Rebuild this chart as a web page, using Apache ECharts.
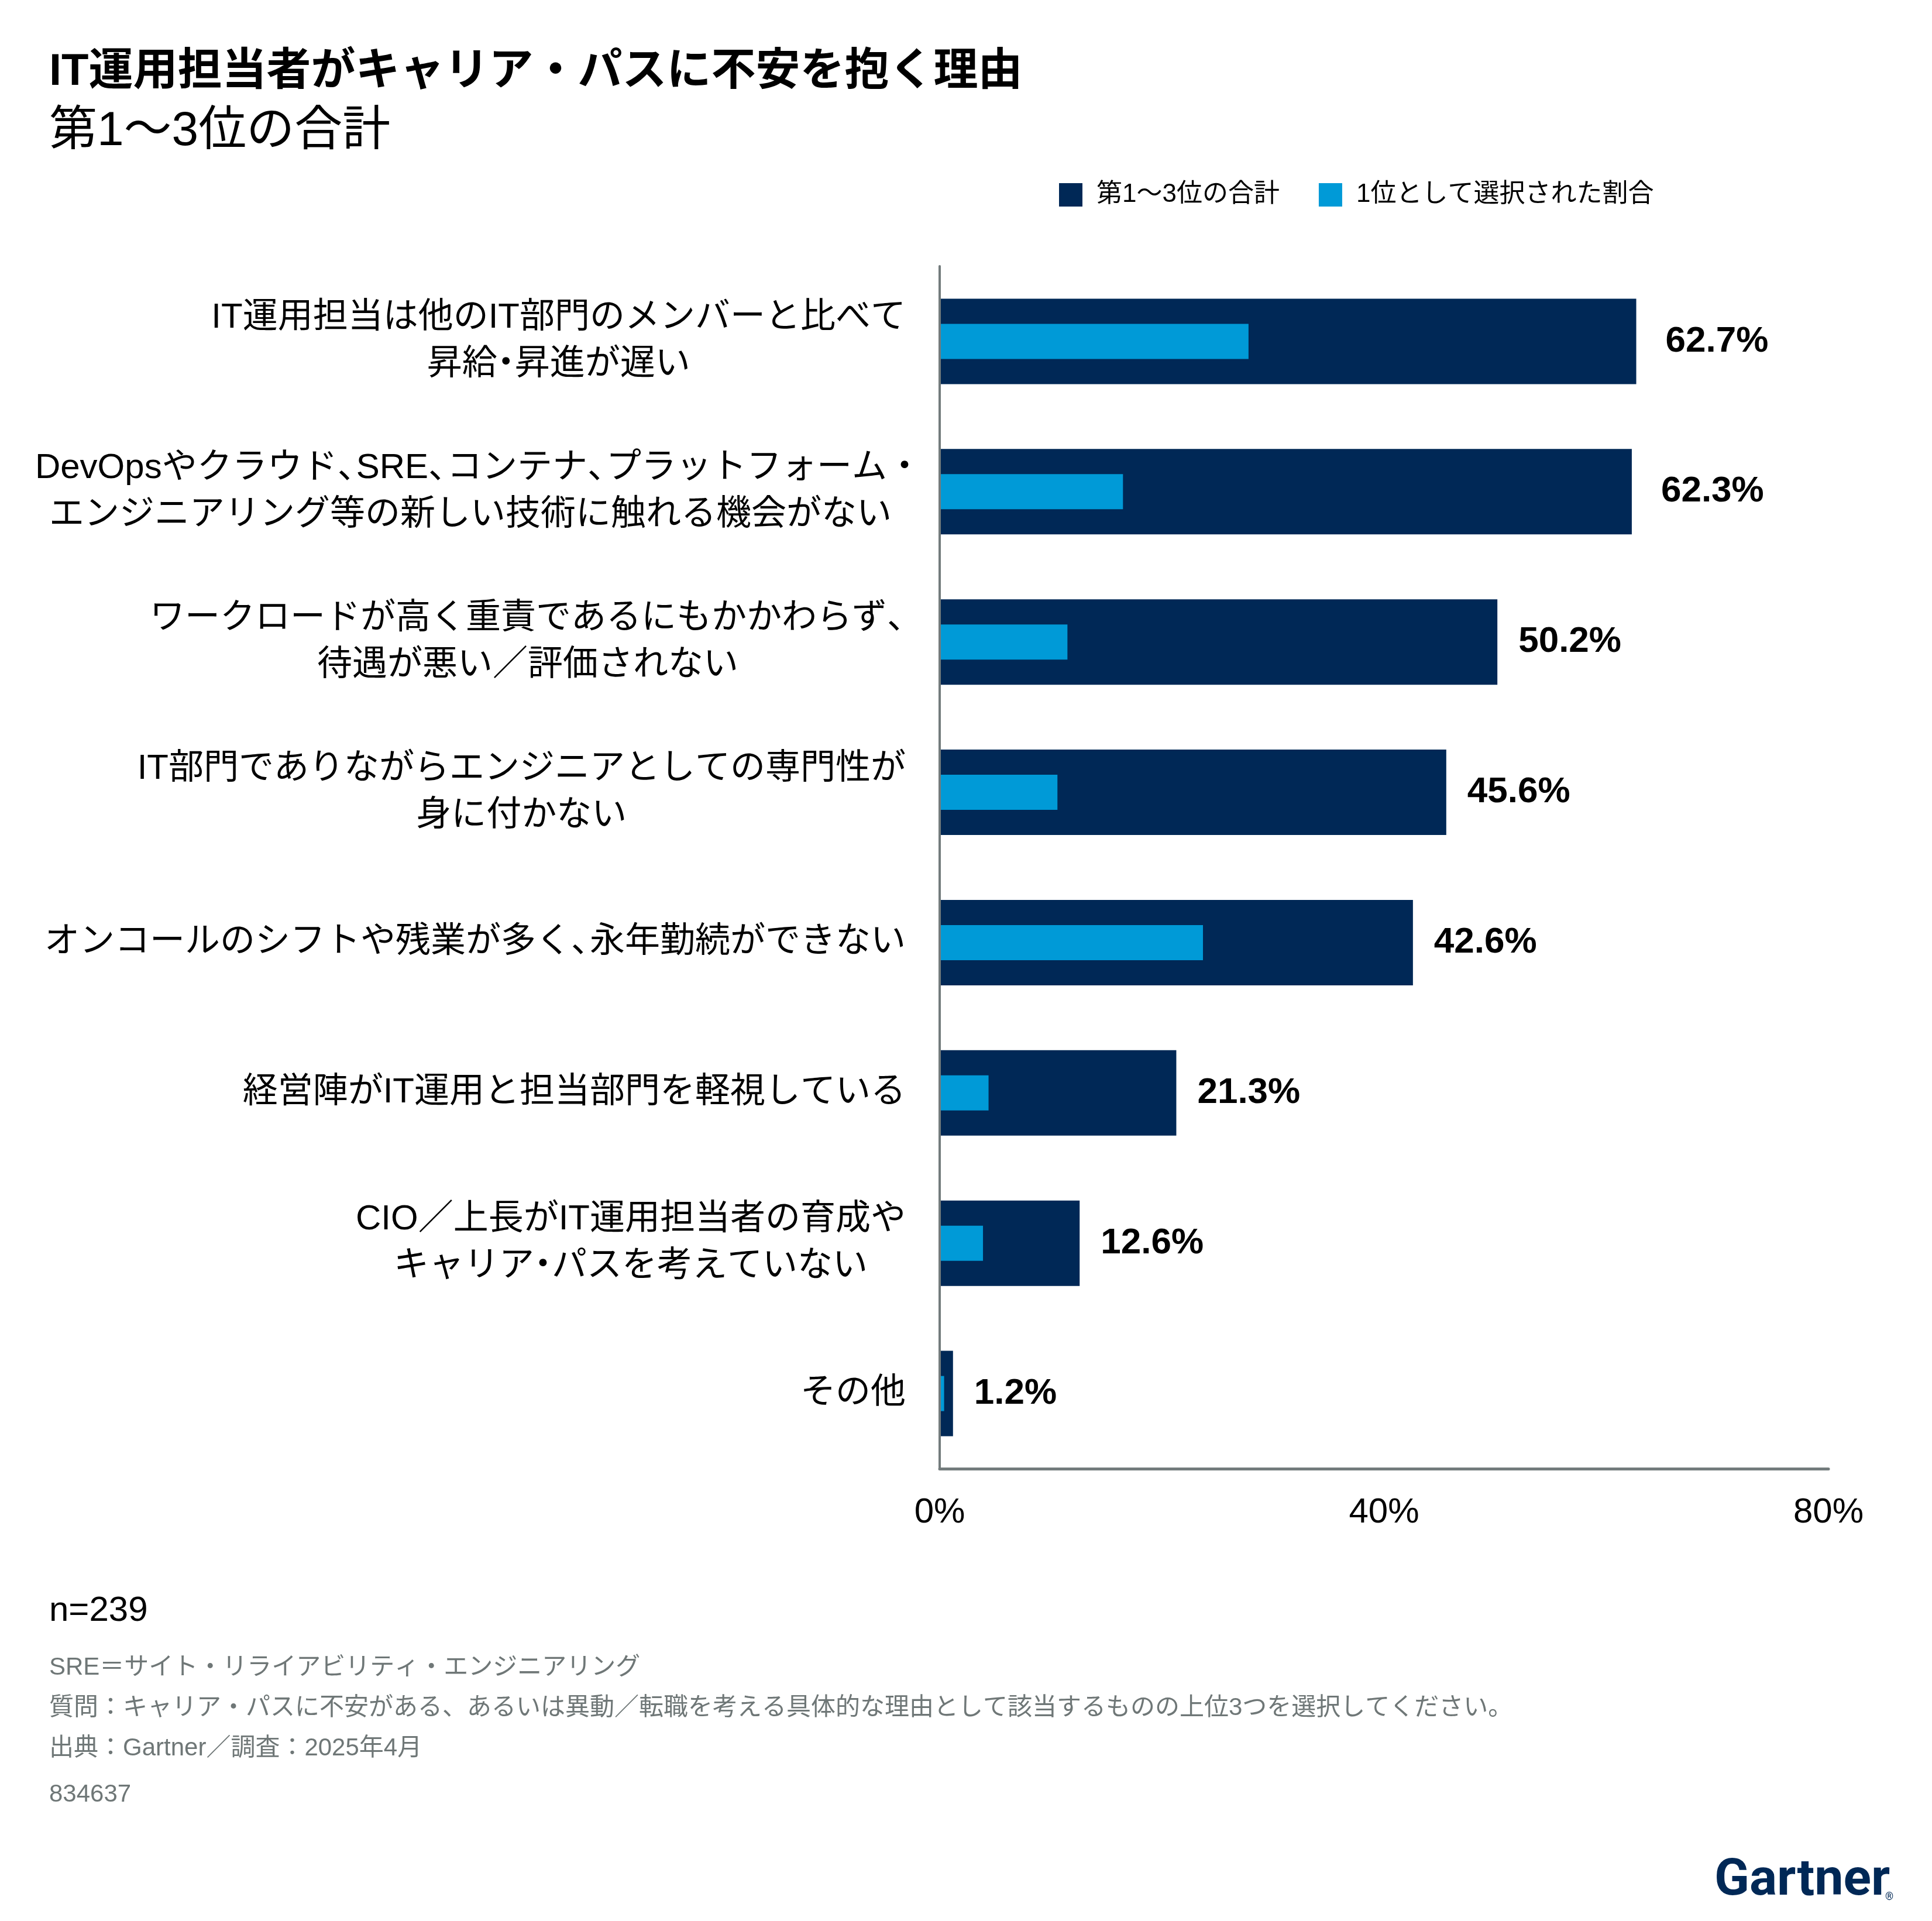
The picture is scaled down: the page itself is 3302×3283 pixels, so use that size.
<!DOCTYPE html>
<html>
<head>
<meta charset="utf-8">
<script src="https://cdn.jsdelivr.net/npm/echarts@6/dist/echarts.min.js"></script>
<style>
  html, body { margin: 0; padding: 0; background: #fff; }
  #chart { width: 3302px; height: 3283px; }
</style>
</head>
<body>
<div id="chart"></div>
<script>
// データ
const categories = [
  'IT運用担当は他のIT部門のメンバーと比べて\n昇給・昇進が遅い',
  'DevOpsやクラウド、SRE、コンテナ、プラットフォーム・\nエンジニアリング等の新しい技術に触れる機会がない',
  'ワークロードが高く重責であるにもかかわらず、\n待遇が悪い／評価されない',
  'IT部門でありながらエンジニアとしての専門性が\n身に付かない',
  'オンコールのシフトや残業が多く、永年勤続ができない',
  '経営陣がIT運用と担当部門を軽視している',
  'CIO／上長がIT運用担当者の育成や\nキャリア・パスを考えていない',
  'その他'
];
const top3Total = [62.7, 62.3, 50.2, 45.6, 42.6, 21.3, 12.6, 1.2];
const firstChoice = [27.8, 16.5, 11.5, 10.6, 23.7, 4.4, 3.9, 0.4];
const xTicks = [0, 40, 80];
const seriesNames = ['第1～3位の合計', '1位として選択された割合'];

const footnotes = [
  'SRE＝サイト・リライアビリティ・エンジニアリング',
  '質問：キャリア・パスに不安がある、あるいは異動／転職を考える具体的な理由として該当するものの上位3つを選択してください。',
  '出典：Gartner／調査：2025年4月',
  '834637'
];

const FONT = "'Liberation Sans', 'Noto Sans CJK JP', sans-serif";
const DARK = '#002856';
const LIGHT = '#009AD7';
const AXIS = '#737B7C';
const NOTE = '#6F7777';

// 句読点を詰めて表示する（1行目は左詰め、2行目以降は中央揃え）
const PUNCT = /([、・])/;
const labelBase = { fontFamily: FONT, fontSize: 60, lineHeight: 80, color: '#000' };
const labelRich = {
  l: Object.assign({}, labelBase, { align: 'left' }),
  lp: Object.assign({}, labelBase, { align: 'left', width: 32 }),
  c: Object.assign({}, labelBase, { align: 'center' }),
  cp: Object.assign({}, labelBase, { align: 'center', width: 30 })
};
function formatCategory(v) {
  return v.split('\n').map((line, li) => {
    const side = li === 0 ? 'l' : 'c';
    return line.split(PUNCT).filter(s => s).map(s =>
      '{' + side + (PUNCT.test(s) ? 'p' : '') + '|' + s + '}'
    ).join('');
  }).join('\n');
}

const chart = echarts.init(document.getElementById('chart'));

const option = {
  animation: false,
  backgroundColor: '#fff',
  title: [
    {
      text: 'IT運用担当者がキャリア・パスに不安を抱く理由',
      left: 84, top: 79, padding: 0,
      textStyle: { fontFamily: FONT, fontSize: 76, fontWeight: 'bold', color: '#000', lineHeight: 90 }
    },
    {
      text: '第1～3位の合計',
      left: 84, top: 180, padding: 0,
      textStyle: { fontFamily: FONT, fontSize: 82, fontWeight: 'normal', color: '#000', lineHeight: 90 }
    }
  ],
  legend: {
    left: 1810, top: 311, padding: 0,
    icon: 'rect', itemWidth: 40, itemHeight: 40, itemGap: 67,
    data: seriesNames,
    textStyle: { fontFamily: FONT, fontSize: 44, color: '#000', padding: [0, 0, 0, 19] }
  },
  grid: { left: 1606, top: 455, width: 1519, height: 2055, containLabel: false, outerBoundsMode: 'none' },
  xAxis: {
    type: 'value', min: xTicks[0], max: xTicks[xTicks.length - 1], interval: 40,
    axisLine: { show: true, lineStyle: { color: AXIS, width: 5 } },
    axisTick: { show: false },
    splitLine: { show: false },
    axisLabel: { formatter: '{value}%', fontFamily: FONT, fontSize: 60, color: '#000', margin: 45 }
  },
  yAxis: [
    {
      type: 'category', data: categories, inverse: true, z: 5,
      axisLine: { show: true, lineStyle: { color: AXIS, width: 4 } },
      axisTick: { show: false },
      axisLabel: {
        interval: 0, margin: 58, align: 'right',
        formatter: formatCategory,
        rich: labelRich
      }
    },
    { type: 'category', data: categories, inverse: true, show: false }
  ],
  series: [
    {
      name: seriesNames[0], type: 'bar', yAxisIndex: 0, barWidth: 146,
      itemStyle: { color: DARK },
      data: top3Total.map((v, i) => ({
        value: v,
        label: { distance: i < 2 ? 50 : 36 }
      })),
      label: {
        show: true, position: 'right',
        formatter: p => p.value.toFixed(1) + '%',
        fontFamily: FONT, fontSize: 62, fontWeight: 'bold', color: '#000'
      }
    },
    {
      name: seriesNames[1], type: 'bar', yAxisIndex: 1, barWidth: 60, z: 3,
      itemStyle: { color: LIGHT },
      data: firstChoice
    }
  ],
  graphic: [
    { type: 'text', x: 84, y: 2753, style: { text: 'n=239', font: '60px ' + FONT, fill: '#000', verticalAlign: 'middle' } },
    { type: 'text', x: 84, y: 2850, style: { text: footnotes[0], font: '42px ' + FONT, fill: NOTE, verticalAlign: 'middle' } },
    { type: 'text', x: 84, y: 2919, style: { text: footnotes[1], font: '42px ' + FONT, fill: NOTE, verticalAlign: 'middle' } },
    { type: 'text', x: 84, y: 2988, style: { text: footnotes[2], font: '42px ' + FONT, fill: NOTE, verticalAlign: 'middle' } },
    { type: 'text', x: 84, y: 3067, style: { text: footnotes[3], font: '42px ' + FONT, fill: NOTE, verticalAlign: 'middle' } },
    // ロゴ
    { type: 'text', x: 2930, y: 3216, style: { text: 'Gartner', font: 'bold 88px Roboto', fill: DARK, verticalAlign: 'middle' } },
    { type: 'text', x: 3222, y: 3242, style: { text: '®', font: '18px Roboto', fill: DARK, verticalAlign: 'middle' } }
  ]
};

chart.setOption(option);
window.addEventListener('resize', () => chart.resize());
</script>
</body>
</html>
